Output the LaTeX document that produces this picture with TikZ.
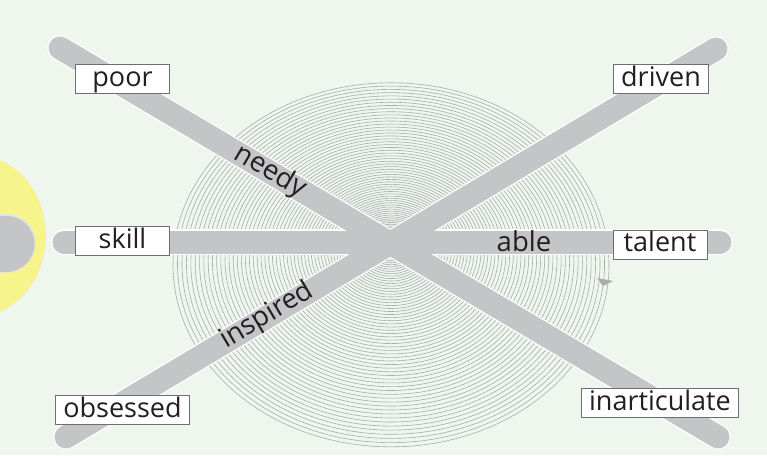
\documentclass[tikz,border=0pt]{standalone}
\usepackage{fontspec}
\setmainfont{Open Sans}
\definecolor{bgc}{HTML}{EFF6EE}
\definecolor{barc}{HTML}{C4C5C7}
\definecolor{ringc}{HTML}{A9ABAE}
\definecolor{boxc}{HTML}{6D6E71}
\definecolor{txtc}{HTML}{231F20}
\definecolor{glowc}{HTML}{F8F48C}
\definecolor{knobedge}{HTML}{E2E3E5}
\tikzset{
  ring/.style={draw=ringc, line width=0.6pt},
  baredge/.style={draw=white, line width=25.5pt, line cap=round},
  barbody/.style={draw=barc, line width=23pt, line cap=round},
  word/.style={draw=boxc, fill=white, line width=0.9pt, text=txtc,
    font=\fontsize{27}{30}\selectfont, inner xsep=8pt, inner ysep=1.5pt,
    text height=20pt, text depth=6pt, minimum width=94pt},
  barword/.style={text=txtc, font=\fontsize{27.5}{30}\selectfont, inner sep=0pt,
    text height=20pt, text depth=6pt}
}
\begin{document}
\begin{tikzpicture}[x=1pt,y=-1pt]
\useasboundingbox (0,0) rectangle (767,455);
\fill[bgc] (0,0) rectangle (767,455);
% yellow glow and knob at left
\fill[glowc] (-22,236) ellipse [x radius=68, y radius=80];
\draw[knobedge, line width=59pt, line cap=round] (-40,243.5) -- (6.5,243.5);
\draw[barc, line width=56pt, line cap=round] (-40,243.5) -- (6.5,243.5);
% concentric rings
\foreach \n in {1,...,70}{
  \pgfmathsetmacro\r{218*(\n/70)^1.45}
  \draw[ring] (391,{243+0.1*\r}) ellipse [x radius=\r, y radius={0.835*\r}];
}
\fill[ringc] (597,278) -- (613,281) -- (603,286) -- cycle;
% bar end points
\coordinate (a1) at (60,48);
\coordinate (a2) at (718,437);
\coordinate (b1) at (66,437);
\coordinate (b2) at (716,49);
\coordinate (c1) at (64,242);
\coordinate (c2) at (720,242);
\draw[baredge] (a1) -- (a2);
\draw[baredge] (b1) -- (b2);
\draw[baredge] (c1) -- (c2);
\draw[barbody] (a1) -- (a2);
\draw[barbody] (b1) -- (b2);
\draw[barbody] (c1) -- (c2);
% bar labels
\node[barword, rotate=-30.6] (needy) at (270,172) {needy};
\node[barword, rotate=30.8] (inspired) at (267,316) {inspired};
\node[barword] (able) at (524,244) {able};
% boxed words
\node[word] (poor) at (122.5,79) {poor};
\node[word] (skill) at (122.5,241) {skill};
\node[word] (obsessed) at (122.5,410) {obsessed};
\node[word] (driven) at (661,79) {driven};
\node[word] (talent) at (660,244.5) {talent};
\node[word] (inarticulate) at (660,403) {inarticulate};
\end{tikzpicture}
\end{document}
